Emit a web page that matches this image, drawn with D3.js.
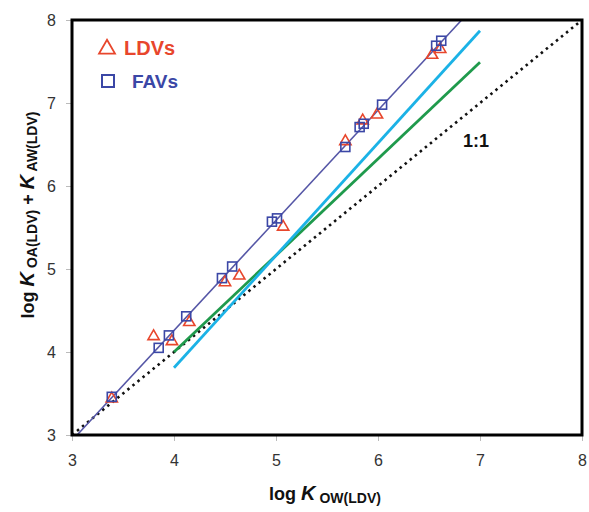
<!DOCTYPE html>
<html>
<head>
<meta charset="utf-8">
<script src="https://cdn.jsdelivr.net/npm/d3@7"></script>
<style>
  body { margin: 0; background: #fff; }
  svg { font-family: "Liberation Sans", Arial, sans-serif; }
</style>
</head>
<body>
<script>
// values
var ticks = [3, 4, 5, 6, 7, 8];
var ldvX = [3.39, 3.80, 3.98, 4.15, 4.50, 4.64, 5.07, 5.68, 5.85, 5.99, 6.53, 6.61];
var ldvY = [3.45, 4.20, 4.14, 4.37, 4.85, 4.93, 5.52, 6.55, 6.80, 6.87, 7.59, 7.66];
var favX = [3.39, 3.85, 3.95, 4.12, 4.47, 4.57, 4.96, 5.01, 5.68, 5.82, 5.86, 6.04, 6.57, 6.62];
var favY = [3.46, 4.05, 4.20, 4.43, 4.89, 5.03, 5.57, 5.61, 6.47, 6.71, 6.75, 6.98, 7.69, 7.75];
var fitX = [3.05, 6.82];
var fitY = [3.0, 8.0];
var cyanX = [4.0, 7.0];
var cyanY = [3.81, 7.87];
var greenX = [4.0, 7.0];
var greenY = [4.0, 7.49];
var oneX = [3, 8];
var oneY = [3, 8];

var width = 589, height = 512;
var margin = {left: 72, right: 7, top: 20, bottom: 77};

var svg = d3.select('body').append('svg').attr('width', width).attr('height', height);

var x = d3.scaleLinear().domain([3, 8]).range([margin.left, width - margin.right]);
var y = d3.scaleLinear().domain([3, 8]).range([height - margin.bottom, margin.top]);

function pairs(xs, ys) {
  return xs.map(function (d, i) { return [d, ys[i]]; });
}
var line = d3.line().x(function (d) { return x(d[0]); }).y(function (d) { return y(d[1]); });

// axes
var xAxis = svg.append('g')
  .attr('transform', 'translate(0,' + y(3) + ')')
  .call(d3.axisBottom(x).tickValues(ticks).tickSize(6).tickPadding(14).tickFormat(d3.format('d')));
var yAxis = svg.append('g')
  .attr('transform', 'translate(' + x(3) + ',0)')
  .call(d3.axisLeft(y).tickValues(ticks).tickSize(6).tickPadding(10).tickFormat(d3.format('d')));
[xAxis, yAxis].forEach(function (a) {
  a.select('.domain').remove();
  a.selectAll('line').attr('stroke', '#bbb');
  a.selectAll('text').attr('font-size', 16).attr('fill', '#333').attr('font-family', '"Liberation Sans", Arial, sans-serif');
});

// 1:1 dotted line
svg.append('path')
  .attr('d', line(pairs(oneX, oneY)))
  .attr('fill', 'none').attr('stroke', '#111').attr('stroke-width', 2.6)
  .attr('stroke-dasharray', '2.5,4');

svg.append('path')
  .attr('d', line(pairs(greenX, greenY)))
  .attr('fill', 'none').attr('stroke', '#1f9a4c').attr('stroke-width', 2.8);

svg.append('path')
  .attr('d', line(pairs(cyanX, cyanY)))
  .attr('fill', 'none').attr('stroke', '#1bb2e6').attr('stroke-width', 2.8);

svg.append('path')
  .attr('d', line(pairs(fitX, fitY)))
  .attr('fill', 'none').attr('stroke', '#5556a6').attr('stroke-width', 1.6);

// points
var tri = d3.symbol().type(d3.symbolTriangle).size(55);
svg.append('g').selectAll('path')
  .data(pairs(ldvX, ldvY))
  .enter().append('path')
  .attr('d', tri)
  .attr('transform', function (d) { return 'translate(' + x(d[0]) + ',' + (y(d[1]) + 1) + ')'; })
  .attr('fill', 'none').attr('stroke', '#e8462c').attr('stroke-width', 1.6);

var sq = 9;
svg.append('g').selectAll('rect')
  .data(pairs(favX, favY))
  .enter().append('rect')
  .attr('x', function (d) { return x(d[0]) - sq / 2; })
  .attr('y', function (d) { return y(d[1]) - sq / 2; })
  .attr('width', sq).attr('height', sq)
  .attr('fill', 'none').attr('stroke', '#3b47a6').attr('stroke-width', 1.6);

// frame
svg.append('rect')
  .attr('x', x(3)).attr('y', y(8))
  .attr('width', x(8) - x(3)).attr('height', y(3) - y(8))
  .attr('fill', 'none').attr('stroke', '#000').attr('stroke-width', 3);

// legend
svg.append('path').attr('d', d3.symbol().type(d3.symbolTriangle).size(110))
  .attr('transform', 'translate(107,49)')
  .attr('fill', 'none').attr('stroke', '#e8462c').attr('stroke-width', 1.8);
svg.append('text').attr('x', 124).attr('y', 55)
  .attr('font-size', 20).attr('font-weight', 'bold').attr('fill', '#e8462c').text('LDVs');
svg.append('rect').attr('x', 102).attr('y', 75).attr('width', 12).attr('height', 12)
  .attr('fill', 'none').attr('stroke', '#3b47a6').attr('stroke-width', 2);
svg.append('text').attr('x', 132).attr('y', 88)
  .attr('font-size', 19).attr('font-weight', 'bold').attr('fill', '#3b47a6').text('FAVs');

svg.append('text').attr('x', 463).attr('y', 147)
  .attr('font-size', 18).attr('font-weight', 'bold').attr('fill', '#111').text('1:1');

// axis titles
var xt = svg.append('text').attr('x', 325).attr('y', 500).attr('text-anchor', 'middle')
  .attr('font-size', 18).attr('font-weight', 'bold').attr('fill', '#111');
xt.append('tspan').text('log ');
xt.append('tspan').attr('font-style', 'italic').attr('font-size', 20).text('K');
xt.append('tspan').attr('font-size', 14).attr('dy', 3).text(' OW(LDV)');

var yt = svg.append('text').attr('transform', 'translate(34,215) rotate(-90)').attr('text-anchor', 'middle')
  .attr('font-size', 18).attr('font-weight', 'bold').attr('fill', '#111');
yt.append('tspan').text('log ');
yt.append('tspan').attr('font-style', 'italic').attr('font-size', 20).text('K');
yt.append('tspan').attr('font-size', 14).attr('dy', 3).text(' OA(LDV)');
yt.append('tspan').attr('dy', -3).text(' + ');
yt.append('tspan').attr('font-style', 'italic').attr('font-size', 20).text('K');
yt.append('tspan').attr('font-size', 14).attr('dy', 3).text(' AW(LDV)');
</script>
</body>
</html>
